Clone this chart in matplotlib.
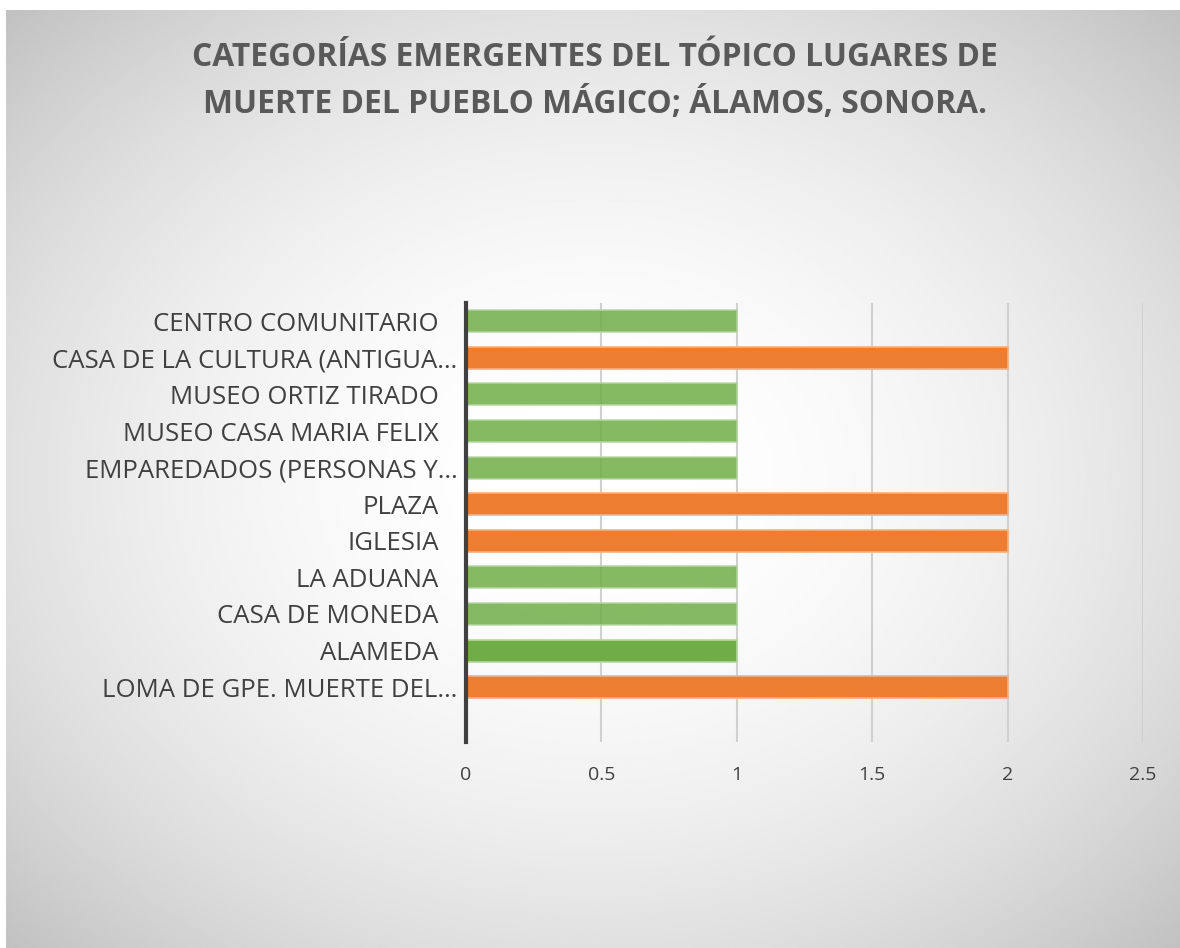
import numpy as np
import matplotlib
matplotlib.use("Agg")
import matplotlib.pyplot as plt
from matplotlib.transforms import ScaledTranslation

# datos (de arriba hacia abajo)
categorias = [
    "CENTRO COMUNITARIO",
    "CASA DE LA CULTURA (ANTIGUA…",
    "MUSEO ORTIZ TIRADO",
    "MUSEO CASA MARIA FELIX",
    "EMPAREDADOS (PERSONAS Y…",
    "PLAZA",
    "IGLESIA",
    "LA ADUANA",
    "CASA DE MONEDA",
    "ALAMEDA",
    "LOMA DE GPE. MUERTE DEL…",
]
valores = [1, 2, 1, 1, 1, 2, 2, 1, 1, 1, 2]
colores = ["verde", "naranja", "verde", "verde", "verde", "naranja",
           "naranja", "verde", "verde", "verde_osc", "naranja"]
ticks_x = [0, 0.5, 1, 1.5, 2, 2.5]
ticks_x_labels = ["0", "0.5", "1", "1.5", "2", "2.5"]
titulo = "CATEGORÍAS EMERGENTES DEL TÓPICO LUGARES DE\nMUERTE DEL PUEBLO MÁGICO; ÁLAMOS, SONORA."

estilo = {
    "verde": dict(color="#70AD47", alpha=0.85, edgecolor="#B5D7A0"),
    "verde_osc": dict(color="#70AD47", alpha=1.0, edgecolor="#B5D7A0"),
    "naranja": dict(color="#ED7D31", alpha=1.0, edgecolor="#F4B183"),
}

plt.rcParams['font.family'] = ['Open Sans', 'DejaVu Sans']

fig = plt.figure(figsize=(11.8, 9.48), dpi=100)
fig.patch.set_facecolor("white")

# fondo con degradado radial
bg = fig.add_axes([6 / 1180, 0, 1 - 6 / 1180, 1 - 10 / 948], zorder=0)
h, w = 400, 500
yy, xx = np.mgrid[-1:1:h * 1j, -1:1:w * 1j]
r2 = xx ** 2 + yy ** 2
gris = (255 - 31 * r2) / 255.0
bg.imshow(gris, cmap="gray", vmin=0, vmax=1, aspect="auto", interpolation="bilinear")
bg.set_axis_off()

ax = fig.add_axes([466 / 1180, 1 - 742 / 948, (1143 - 466) / 1180, (742 - 303) / 948], zorder=1)
ax.patch.set_alpha(0)

n = len(categorias)
pos = np.arange(n)[::-1]
for p, v, c in zip(pos, valores, colores):
    ax.barh(p, v, height=0.6, linewidth=1.2, zorder=2, **estilo[c])

ax.set_xlim(0, 2.5)
ax.set_ylim(-1.5, n - 0.5)
ax.set_yticks(pos)
ax.set_yticklabels(categorias, fontsize=18.5, color="#404040")
ax.set_xticks(ticks_x)
ax.set_xticklabels(ticks_x_labels, fontsize=14, color="#404040")
ax.tick_params(axis="both", length=0)
ax.tick_params(axis="x", pad=17)
ax.tick_params(axis="y", pad=6)

# etiquetas completas llevan un espacio al final en el original
off = ScaledTranslation(-0.19, 0, fig.dpi_scale_trans)
for lab in ax.get_yticklabels():
    if not lab.get_text().endswith("…"):
        lab.set_transform(lab.get_transform() + off)

ax.grid(axis="x", color="#D0D0D0", linewidth=1.5, zorder=1)
ax.set_axisbelow(True)
for s in ["top", "right", "bottom"]:
    ax.spines[s].set_visible(False)
ax.spines["left"].set_color("#404040")
ax.spines["left"].set_linewidth(3)
ax.spines["left"].set_zorder(3)

fig.text(595 / 1180, 1 - 81 / 948, titulo, ha="center", va="center",
         fontsize=22.9, fontweight="bold", color="#595959", linespacing=1.47, zorder=2)

fig.savefig("out.png", dpi=100)
